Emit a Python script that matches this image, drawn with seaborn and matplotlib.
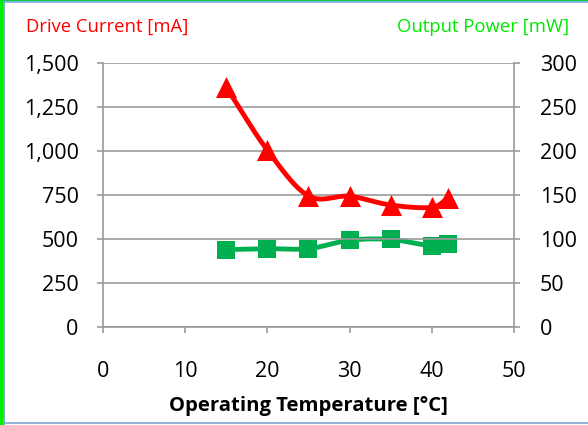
import numpy as np
import matplotlib
matplotlib.use('Agg')
import matplotlib.pyplot as plt
import seaborn as sns
from matplotlib.lines import Line2D

# data
temperature = [15, 20, 25, 30, 35, 40, 42]
drive_current = [1362, 1005, 745, 743, 693, 680, 735]   # mA, left axis
output_power = [88, 89, 89, 98.5, 99.5, 92, 94]          # mW, right axis

sns.set_theme(style="white")
plt.rcParams['font.family'] = ['Open Sans', 'DejaVu Sans']

RED = '#FF0000'
GREEN = '#00B050'
GRID = '#999999'


def smooth(xs, ys, n=30):
    # Catmull-Rom style curve through the points (like Excel's smoothed line)
    xs = np.asarray(xs, float)
    ys = np.asarray(ys, float)
    px = np.concatenate([[2 * xs[0] - xs[1]], xs, [2 * xs[-1] - xs[-2]]])
    py = np.concatenate([[2 * ys[0] - ys[1]], ys, [2 * ys[-1] - ys[-2]]])
    outx, outy = [], []
    t = np.linspace(0, 1, n)
    for i in range(1, len(px) - 2):
        for p, out in ((px, outx), (py, outy)):
            p0, p1, p2, p3 = p[i - 1], p[i], p[i + 1], p[i + 2]
            c1 = p1 + (p2 - p0) / 6
            c2 = p2 - (p3 - p1) / 6
            out.extend((1 - t) ** 3 * p1 + 3 * (1 - t) ** 2 * t * c1
                       + 3 * (1 - t) * t ** 2 * c2 + t ** 3 * p2)
    return outx, outy


fig = plt.figure(figsize=(5.88, 4.25), dpi=100)
ax = fig.add_axes([0.175, 0.2306, 0.699, 0.6212])
ax2 = ax.twinx()

# grid on left axis ticks
ax.set_ylim(0, 1500)
ax.set_xlim(0, 50)
ax.set_yticks(range(0, 1501, 250))
ax.set_xticks(range(0, 51, 10))
ax.yaxis.grid(True, color=GRID, linewidth=1.2)
ax.set_axisbelow(True)
ax.set_yticklabels([f'{v:,}' for v in range(0, 1501, 250)])

ax2.set_ylim(0, 300)
ax2.set_yticks(range(0, 301, 50))

# green series (right axis)
gx, gy = smooth(temperature, output_power)
ax2.plot(gx, gy, color=GREEN, linewidth=3.5, zorder=2)
sns.scatterplot(x=temperature, y=output_power, ax=ax2, marker='s', s=150,
                color=GREEN, edgecolor=GREEN, linewidth=0, zorder=3)

# red series (left axis) drawn on top
ax.set_zorder(ax2.get_zorder() + 1)
ax.patch.set_visible(False)
rx, ry = smooth(temperature, drive_current)
ax.plot(rx, ry, color=RED, linewidth=3.5, zorder=4)
sns.scatterplot(x=temperature, y=drive_current, ax=ax, marker='^', s=230,
                color=RED, edgecolor=RED, linewidth=0, zorder=5)

for a in (ax, ax2):
    a.spines['top'].set_visible(False)
    for side in ('left', 'right', 'bottom'):
        a.spines[side].set_color(GRID)
        a.spines[side].set_linewidth(1.2)
ax.spines['right'].set_visible(False)
ax2.spines['left'].set_visible(False)
ax2.spines['bottom'].set_visible(False)

ax.tick_params(axis='both', direction='out', length=4.5, width=1.2, color=GRID,
               labelsize=15.5, labelcolor='black', left=True, bottom=True, pad=13)
ax.tick_params(axis='x', pad=20)
ax2.tick_params(axis='y', direction='out', length=4.5, width=1.2, color=GRID,
                labelsize=15.5, labelcolor='black', right=True, pad=14)
ax2.set_ylabel('')

ax.set_xlabel('Operating Temperature [°C]', fontsize=14.6, fontweight='bold',
              labelpad=10, color='black')

fig.text(0.044, 0.936, 'Drive Current [mA]', color=RED, fontsize=13.3,
         ha='left', va='center')
fig.text(0.968, 0.936, 'Output Power [mW]', color='#00E800', fontsize=13.3,
         ha='right', va='center')

# frame like the original screenshot
fig.add_artist(Line2D([0.003, 0.003], [0, 1], color='#00EE00', linewidth=4,
                      transform=fig.transFigure))
fig.add_artist(Line2D([0, 1], [0.999, 0.999], color='#00CC44', linewidth=1,
                      transform=fig.transFigure))
fig.add_artist(Line2D([0.0075, 0.0075], [0, 0.995], color='#7FA7D6', linewidth=1.2,
                      transform=fig.transFigure))
fig.add_artist(Line2D([0.0075, 1], [0.995, 0.995], color='#7FA7D6', linewidth=1.2,
                      transform=fig.transFigure))
fig.add_artist(Line2D([0.0075, 1], [0.004, 0.004], color='#7FA7D6', linewidth=1.2,
                      transform=fig.transFigure))

fig.savefig('out.png', dpi=100)
